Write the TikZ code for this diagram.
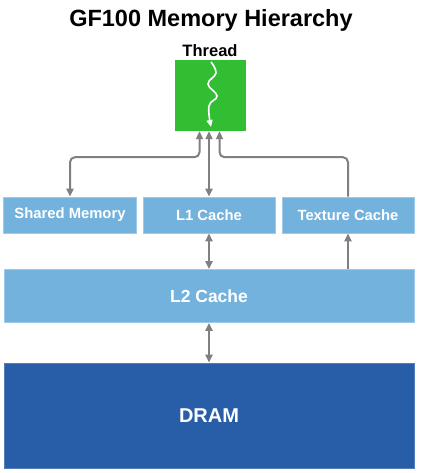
\documentclass[tikz,border=0pt]{standalone}
\usepackage{fontspec}
\setmainfont{Liberation Sans}
\usetikzlibrary{arrows.meta}
\definecolor{thgreen}{RGB}{50,190,50}
\definecolor{lblue}{RGB}{116,178,222}
\definecolor{dblue}{RGB}{40,94,167}
\definecolor{agray}{RGB}{128,128,128}
\begin{document}
\begin{tikzpicture}[x=1pt,y=-1pt,
  >={Triangle[length=8pt,width=7pt]},
  box/.style={rectangle,inner sep=0pt,text=white,font=\bfseries},
  lbox/.style={box,fill=lblue,draw=lblue!70!white,line width=0.6pt},
  conn/.style={draw=agray,line width=2pt,rounded corners=5pt}
]
\useasboundingbox (0,0) rectangle (421,473);
\fill[white] (0,0) rectangle (421,473);
\node[font=\bfseries\fontsize{23.5}{26}\selectfont] (title) at (211,20) {GF100 Memory Hierarchy};
\node[font=\bfseries\fontsize{16.5}{19}\selectfont] (tlabel) at (210,51) {Thread};
\node[box,fill=thgreen,minimum width=71pt,minimum height=71pt] (thread) at (210.5,95.5) {};
\node[lbox,minimum width=133pt,minimum height=36pt,font=\bfseries\fontsize{14.8}{17}\selectfont] (shm) at (70,215) {Shared Memory};
\node[lbox,minimum width=132pt,minimum height=36pt,font=\bfseries\fontsize{14.8}{17}\selectfont] (l1) at (209,215) {L1 Cache};
\node[lbox,minimum width=132pt,minimum height=36pt,font=\bfseries\fontsize{14.8}{17}\selectfont] (tex) at (348,215) {Texture Cache};
\node[lbox,minimum width=410pt,minimum height=53pt,font=\bfseries\fontsize{17.5}{20}\selectfont] (l2) at (209,296) {L2 Cache};
\node[box,fill=dblue,draw=dblue!80!white,line width=0.6pt,minimum width=410pt,minimum height=105pt,font=\bfseries\fontsize{20}{23}\selectfont] (dram) at (209,415.5) {DRAM};
% squiggle inside thread
\draw[white,line width=1.6pt,-{Triangle[length=7pt,width=6pt]}] plot[smooth,tension=0.7] coordinates {(211,62) (216,73) (208,84) (217,96) (209,106) (211,127)};
% connectors
\draw[conn,<->] (shm.north) |- ([xshift=-11pt,yshift=-26pt]thread.south) -- ([xshift=-11pt]thread.south);
\draw[conn,<->] (l1.north) -- (l1.north |- thread.south);
\draw[conn,->] (tex.north) |- ([xshift=9pt,yshift=-26pt]thread.south) -- ([xshift=9pt]thread.south);
\draw[conn,<->] (l1.south) -- (l1.south |- l2.north);
\draw[conn,->] (l2.north -| tex.south) -- (tex.south);
\draw[conn,<->] (l2.south) -- (dram.north);
\end{tikzpicture}
\end{document}
